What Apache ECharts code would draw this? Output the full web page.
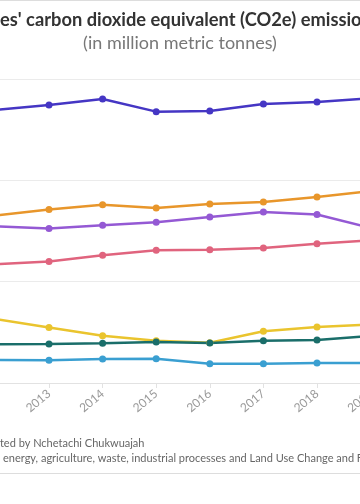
<!DOCTYPE html>
<html><head><meta charset="utf-8">
<script src="https://cdn.jsdelivr.net/npm/echarts@6/dist/echarts.min.js"></script>
<style>html,body{margin:0;padding:0;background:#fff}#c{width:360px;height:504px}</style>
</head><body><div id="c"></div>
<script>
const years = ['2012','2013','2014','2015','2016','2017','2018','2019'];
const s1 = [269.5, 274.4, 280.3, 267.8, 268.5, 275.4, 277.4, 281.0];
const s2 = [165.3, 171.3, 176.0, 172.8, 176.7, 178.7, 183.6, 189.5];
const s3 = [154.5, 152.5, 155.7, 158.6, 163.9, 168.8, 166.3, 153.0];
const s4 = [117.2, 119.9, 126.0, 131.0, 131.6, 133.3, 137.4, 140.9];
const s5 = [63.2, 54.8, 46.7, 41.8, 39.8, 51.0, 55.3, 57.7];
const s6 = [38.2, 38.5, 39.2, 40.5, 39.5, 41.8, 42.4, 46.4];
const s7 = [22.7, 22.4, 23.7, 24.0, 19.0, 19.0, 19.7, 19.7];
const seriesData = [s1, s2, s3, s4, s5, s6, s7];
const colors = ['#4536c4', '#e8962b', '#9459d4', '#e0647e', '#eac42e', '#1a6e6a', '#3a9fd1'];
const yTicks = [0, 100, 200, 300];

const titleText = "Top African countries' carbon dioxide equivalent (CO2e) emissions";
const subtitleText = "(in million metric tonnes)";
const credit = "Chart: Created by Nchetachi Chukwuajah";
const note = "Note: Includes energy, agriculture, waste, industrial processes and Land Use Change and Forestry (LUCF)";

const cv = document.createElement('canvas').getContext('2d');
function w(t, font){ cv.font = font; return cv.measureText(t).width; }
const tFont = "bold 18.3px Lato";
const titleX = -w("Top African countri", tFont);
const fFont = "11px Lato";
const footX1 = -w("Chart: Crea", fFont);
const footX2 = 3 - w("Note: Includes ", fFont);

const chart = echarts.init(document.getElementById('c'), null, {renderer:'canvas'});
chart.setOption({
  animation:false,
  backgroundColor:'#fff',
  graphic:[
    {type:'line', shape:{x1:0,y1:0.5,x2:360,y2:0.5}, style:{stroke:'#dddddd', lineWidth:1}},
    {type:'line', shape:{x1:0,y1:473.5,x2:360,y2:473.5}, style:{stroke:'#dddddd', lineWidth:1}},
    {type:'text', x:titleX, y:20, style:{text:titleText, font:tFont, fill:'#333', textVerticalAlign:'middle'}},
    {type:'text', x:180, y:43, style:{text:subtitleText, font:'18px Lato', fill:'#777', textAlign:'center', textVerticalAlign:'middle'}},
    {type:'text', x:footX1, y:443, style:{text:credit, font:fFont, fill:'#666', textVerticalAlign:'middle'}},
    {type:'text', x:footX2, y:458, style:{text:note, font:fFont, fill:'#666', textVerticalAlign:'middle'}}
  ],
  grid:{left:-4.6, right:-10.6, top:79, bottom:121, containLabel:false, outerBoundsMode:'none'},
  xAxis:{type:'category', data:years, boundaryGap:false,
    axisLine:{lineStyle:{color:'#e2e2e2'}},
    axisTick:{show:true, length:5, lineStyle:{color:'#e2e2e2'}},
    axisLabel:{rotate:40, margin:9, color:'#999', fontSize:12, fontFamily:'Lato'},
    splitLine:{show:false}},
  yAxis:{type:'value', min:yTicks[0], max:yTicks[yTicks.length-1], interval:100,
    axisLabel:{show:false}, axisLine:{show:false}, axisTick:{show:false},
    splitLine:{lineStyle:{color:'#ebebeb'}}},
  series: seriesData.map((d,i)=>({
    type:'line', data:d, symbol:'circle', symbolSize:7,
    lineStyle:{width:2.5, color:colors[i]}, itemStyle:{color:colors[i]}
  }))
});
</script></body></html>
